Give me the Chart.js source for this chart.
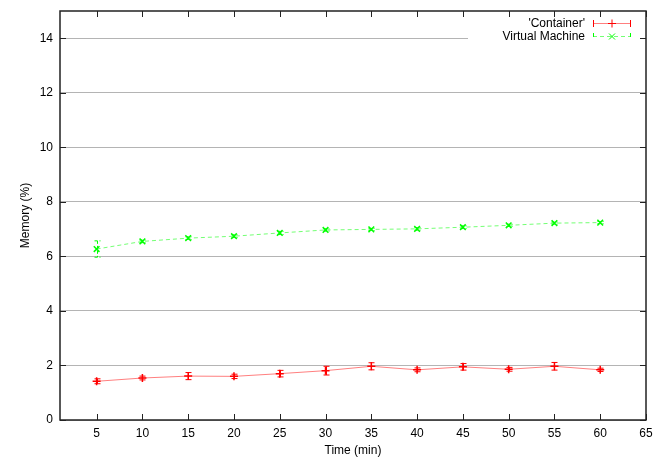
<!DOCTYPE html>
<html>
<head>
<meta charset="utf-8">
<script src="https://cdn.jsdelivr.net/npm/chart.js@4/dist/chart.umd.min.js"></script>
<style>
  html, body { margin: 0; padding: 0; background: #fff; }
  #wrap { width: 654px; height: 458px; }
</style>
</head>
<body>
<div id="wrap"><canvas id="memChart" width="654" height="458"></canvas></div>
<script>
/* global Chart */

const minutes = [5, 10, 15, 20, 25, 30, 35, 40, 45, 50, 55, 60];
const containerMem = [1.42, 1.54, 1.61, 1.60, 1.70, 1.81, 1.97, 1.84, 1.95, 1.86, 1.97, 1.84];
const containerErr = [0.09, 0.07, 0.13, 0.08, 0.12, 0.16, 0.13, 0.07, 0.12, 0.07, 0.14, 0.06];
const vmMem = [6.27, 6.55, 6.67, 6.74, 6.86, 6.97, 6.99, 7.01, 7.07, 7.14, 7.22, 7.24];
const vmErr = [0.30, 0.05, 0.05, 0.05, 0.06, 0.04, 0.04, 0.05, 0.05, 0.04, 0.04, 0.04];
const xTicks = [5, 10, 15, 20, 25, 30, 35, 40, 45, 50, 55, 60, 65];
const yTicks = [0, 2, 4, 6, 8, 10, 12, 14];
const seriesNames = ["'Container'", 'Virtual Machine'];

const FONT = 'Liberation Sans, Arial, sans-serif';
const markColors = ['#ff0000', '#00ff00'];

function points(ys) {
  return minutes.map((m, i) => ({ x: m, y: ys[i] }));
}

// white box behind the key, so the top grid line stops short of it
const keyBackground = {
  id: 'keyBackground',
  beforeDatasetsDraw(chart) {
    const { ctx, chartArea } = chart;
    ctx.save();
    ctx.fillStyle = '#fff';
    ctx.fillRect(468, chartArea.top + 2, chartArea.right - 470, 34);
    ctx.restore();
  },
};

// vertical error bars with small caps
const errorBars = {
  id: 'errorBars',
  afterDatasetsDraw(chart) {
    const { ctx } = chart;
    const xs = chart.scales.x;
    const ys = chart.scales.y;
    const errs = [containerErr, vmErr];
    chart.data.datasets.forEach((ds, d) => {
      ctx.save();
      ctx.strokeStyle = markColors[d];
      ctx.lineWidth = 1;
      if (d === 1) ctx.setLineDash([3, 2]);
      ds.data.forEach((p, i) => {
        const px = Math.round(xs.getPixelForValue(p.x)) + 0.5;
        const hi = ys.getPixelForValue(p.y + errs[d][i]);
        const lo = ys.getPixelForValue(p.y - errs[d][i]);
        ctx.beginPath();
        ctx.moveTo(px, hi);
        ctx.lineTo(px, lo);
        ctx.moveTo(px - 3, hi);
        ctx.lineTo(px + 3, hi);
        ctx.moveTo(px - 3, lo);
        ctx.lineTo(px + 3, lo);
        ctx.stroke();
      });
      ctx.restore();
    });
  },
};

// frame with inward ticks on all four sides, plus the key
const frameAndKey = {
  id: 'frameAndKey',
  afterDraw(chart) {
    const { ctx, chartArea } = chart;
    const { left, right, top, bottom } = chartArea;
    const xs = chart.scales.x;
    const ys = chart.scales.y;
    ctx.save();
    ctx.strokeStyle = '#222';
    ctx.lineWidth = 1.5;
    ctx.strokeRect(left, top, right - left, bottom - top);
    ctx.lineWidth = 1;
    ctx.beginPath();
    xTicks.forEach((v) => {
      const px = Math.round(xs.getPixelForValue(v)) + 0.5;
      ctx.moveTo(px, bottom);
      ctx.lineTo(px, bottom - 6);
      ctx.moveTo(px, top);
      ctx.lineTo(px, top + 6);
    });
    yTicks.forEach((v) => {
      const py = Math.round(ys.getPixelForValue(v)) + 0.5;
      ctx.moveTo(left, py);
      ctx.lineTo(left + 6, py);
      ctx.moveTo(right, py);
      ctx.lineTo(right - 6, py);
    });
    ctx.stroke();

    // key
    ctx.font = '12px ' + FONT;
    ctx.textAlign = 'right';
    ctx.textBaseline = 'middle';
    chart.data.datasets.forEach((ds, d) => {
      const ky = 23.5 + d * 13;
      ctx.fillStyle = '#000';
      ctx.fillText(seriesNames[d], 585, ky);
      ctx.strokeStyle = ds.borderColor;
      ctx.lineWidth = 1;
      ctx.setLineDash(d === 1 ? [4, 3] : []);
      ctx.beginPath();
      ctx.moveTo(593, ky);
      ctx.lineTo(630, ky);
      ctx.stroke();
      ctx.strokeStyle = markColors[d];
      ctx.beginPath();
      ctx.moveTo(593.5, ky - 3.5);
      ctx.lineTo(593.5, ky + 3.5);
      ctx.moveTo(630.5, ky - 3.5);
      ctx.lineTo(630.5, ky + 3.5);
      ctx.stroke();
      ctx.setLineDash([]);
      ctx.beginPath();
      if (d === 0) {
        ctx.moveTo(608, ky);
        ctx.lineTo(616, ky);
        ctx.moveTo(612, ky - 4);
        ctx.lineTo(612, ky + 4);
      } else {
        ctx.moveTo(609, ky - 3);
        ctx.lineTo(615, ky + 3);
        ctx.moveTo(609, ky + 3);
        ctx.lineTo(615, ky - 3);
      }
      ctx.stroke();
    });
    ctx.restore();
  },
};

function memoryChart() {
  const config = {
    type: 'line',
    data: {
      datasets: [{
        label: seriesNames[0],
        data: points(containerMem),
        borderColor: 'rgba(255,0,0,0.5)',
        backgroundColor: markColors[0],
        pointBorderColor: markColors[0],
        borderWidth: 1,
        pointStyle: 'cross',
        pointRadius: 4,
        pointBorderWidth: 1.5,
        tension: 0,
      }, {
        label: seriesNames[1],
        data: points(vmMem),
        borderColor: 'rgba(0,255,0,0.55)',
        backgroundColor: markColors[1],
        pointBorderColor: markColors[1],
        borderWidth: 1,
        borderDash: [4, 3],
        pointStyle: 'crossRot',
        pointRadius: 4,
        pointBorderWidth: 1.5,
        tension: 0,
      }],
    },
    options: {
      responsive: false,
      animation: false,
      layout: { padding: { top: 11, right: 8, left: 0, bottom: 0 } },
      plugins: {
        legend: { display: false },
        tooltip: { enabled: false },
      },
      scales: {
        x: {
          type: 'linear',
          min: 1,
          max: 65,
          afterBuildTicks: (scale) => { scale.ticks = xTicks.map((v) => ({ value: v })); },
          afterFit: (scale) => {
            scale.height = 38;
            scale.paddingLeft = 0;
            scale.paddingRight = 0;
          },
          grid: { display: false, drawTicks: false },
          border: { display: false },
          ticks: { color: '#000', font: { family: FONT, size: 12 }, padding: 6, maxRotation: 0 },
          title: {
            display: true,
            text: 'Time (min)',
            color: '#000',
            font: { family: FONT, size: 12 },
            padding: { top: 0, bottom: 0 },
          },
        },
        y: {
          min: 0,
          max: 15,
          afterBuildTicks: (scale) => { scale.ticks = yTicks.map((v) => ({ value: v })); },
          afterFit: (scale) => {
            scale.width = 60;
            scale.paddingTop = 0;
            scale.paddingBottom = 0;
          },
          grid: { color: '#b4b4b4', lineWidth: 1, drawTicks: false },
          border: { display: false },
          ticks: { color: '#000', font: { family: FONT, size: 12 }, padding: 7 },
          title: {
            display: true,
            text: 'Memory (%)',
            color: '#000',
            font: { family: FONT, size: 12 },
            padding: { top: 18, bottom: 0 },
          },
        },
      },
    },
    plugins: [keyBackground, errorBars, frameAndKey],
  };
  return new Chart(document.getElementById('memChart'), config);
}

memoryChart();
</script>
</body>
</html>
